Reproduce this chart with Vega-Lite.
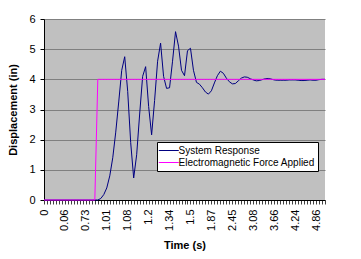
{
  "$schema": "https://vega.github.io/schema/vega-lite/v6.json",
  "width": 281,
  "height": 181,
  "autosize": {"type": "none"},
  "padding": {"left": 44, "top": 19, "right": 36, "bottom": 59},
  "background": "white",
  "data": {
    "values": [
      {"i": 0, "t": "0", "response": 0, "force": 0},
      {"i": 1, "t": "0.01", "response": 0, "force": 0},
      {"i": 2, "t": "0.02", "response": 0, "force": 0},
      {"i": 3, "t": "0.03", "response": 0, "force": 0},
      {"i": 4, "t": "0.04", "response": 0, "force": 0},
      {"i": 5, "t": "0.045", "response": 0, "force": 0},
      {"i": 6, "t": "0.05", "response": 0, "force": 0},
      {"i": 7, "t": "0.06", "response": 0, "force": 0},
      {"i": 8, "t": "0.16", "response": 0, "force": 0},
      {"i": 9, "t": "0.26", "response": 0, "force": 0},
      {"i": 10, "t": "0.36", "response": 0, "force": 0},
      {"i": 11, "t": "0.46", "response": 0, "force": 0},
      {"i": 12, "t": "0.56", "response": 0, "force": 0},
      {"i": 13, "t": "0.66", "response": 0, "force": 0},
      {"i": 14, "t": "0.73", "response": 0, "force": 0},
      {"i": 15, "t": "0.77", "response": 0, "force": 0},
      {"i": 16, "t": "0.81", "response": 0, "force": 0},
      {"i": 17, "t": "0.85", "response": 0, "force": 0},
      {"i": 18, "t": "0.89", "response": 0, "force": 4},
      {"i": 19, "t": "0.93", "response": 0.05, "force": 4},
      {"i": 20, "t": "0.97", "response": 0.18, "force": 4},
      {"i": 21, "t": "1.01", "response": 0.4, "force": 4},
      {"i": 22, "t": "1.02", "response": 0.8, "force": 4},
      {"i": 23, "t": "1.03", "response": 1.4, "force": 4},
      {"i": 24, "t": "1.04", "response": 2.25, "force": 4},
      {"i": 25, "t": "1.05", "response": 3.25, "force": 4},
      {"i": 26, "t": "1.06", "response": 4.3, "force": 4},
      {"i": 27, "t": "1.07", "response": 4.75, "force": 4},
      {"i": 28, "t": "1.08", "response": 3.6, "force": 4},
      {"i": 29, "t": "1.1", "response": 1.9, "force": 4},
      {"i": 30, "t": "1.12", "response": 0.73, "force": 4},
      {"i": 31, "t": "1.13", "response": 1.5, "force": 4},
      {"i": 32, "t": "1.15", "response": 2.85, "force": 4},
      {"i": 33, "t": "1.17", "response": 4.1, "force": 4},
      {"i": 34, "t": "1.18", "response": 4.42, "force": 4},
      {"i": 35, "t": "1.2", "response": 3.1, "force": 4},
      {"i": 36, "t": "1.22", "response": 2.16, "force": 4},
      {"i": 37, "t": "1.24", "response": 3.3, "force": 4},
      {"i": 38, "t": "1.26", "response": 4.6, "force": 4},
      {"i": 39, "t": "1.28", "response": 5.2, "force": 4},
      {"i": 40, "t": "1.3", "response": 4.1, "force": 4},
      {"i": 41, "t": "1.32", "response": 3.7, "force": 4},
      {"i": 42, "t": "1.34", "response": 3.72, "force": 4},
      {"i": 43, "t": "1.36", "response": 4.6, "force": 4},
      {"i": 44, "t": "1.38", "response": 5.58, "force": 4},
      {"i": 45, "t": "1.41", "response": 5.1, "force": 4},
      {"i": 46, "t": "1.43", "response": 4.3, "force": 4},
      {"i": 47, "t": "1.45", "response": 4.12, "force": 4},
      {"i": 48, "t": "1.48", "response": 4.95, "force": 4},
      {"i": 49, "t": "1.5", "response": 5.03, "force": 4},
      {"i": 50, "t": "1.55", "response": 4.3, "force": 4},
      {"i": 51, "t": "1.61", "response": 3.9, "force": 4},
      {"i": 52, "t": "1.66", "response": 3.84, "force": 4},
      {"i": 53, "t": "1.72", "response": 3.72, "force": 4},
      {"i": 54, "t": "1.77", "response": 3.58, "force": 4},
      {"i": 55, "t": "1.82", "response": 3.51, "force": 4},
      {"i": 56, "t": "1.87", "response": 3.62, "force": 4},
      {"i": 57, "t": "1.95", "response": 3.88, "force": 4},
      {"i": 58, "t": "2.04", "response": 4.12, "force": 4},
      {"i": 59, "t": "2.12", "response": 4.27, "force": 4},
      {"i": 60, "t": "2.2", "response": 4.2, "force": 4},
      {"i": 61, "t": "2.28", "response": 4.04, "force": 4},
      {"i": 62, "t": "2.37", "response": 3.92, "force": 4},
      {"i": 63, "t": "2.45", "response": 3.85, "force": 4},
      {"i": 64, "t": "2.54", "response": 3.86, "force": 4},
      {"i": 65, "t": "2.63", "response": 3.95, "force": 4},
      {"i": 66, "t": "2.72", "response": 4.04, "force": 4},
      {"i": 67, "t": "2.81", "response": 4.08, "force": 4},
      {"i": 68, "t": "2.9", "response": 4.07, "force": 4},
      {"i": 69, "t": "2.99", "response": 4.02, "force": 4},
      {"i": 70, "t": "3.08", "response": 3.98, "force": 4},
      {"i": 71, "t": "3.16", "response": 3.95, "force": 4},
      {"i": 72, "t": "3.24", "response": 3.96, "force": 4},
      {"i": 73, "t": "3.33", "response": 3.99, "force": 4},
      {"i": 74, "t": "3.41", "response": 4.02, "force": 4},
      {"i": 75, "t": "3.49", "response": 4.03, "force": 4},
      {"i": 76, "t": "3.58", "response": 4.01, "force": 4},
      {"i": 77, "t": "3.66", "response": 3.98, "force": 4},
      {"i": 78, "t": "3.74", "response": 3.97, "force": 4},
      {"i": 79, "t": "3.82", "response": 3.97, "force": 4},
      {"i": 80, "t": "3.91", "response": 3.97, "force": 4},
      {"i": 81, "t": "3.99", "response": 3.97, "force": 4},
      {"i": 82, "t": "4.07", "response": 3.98, "force": 4},
      {"i": 83, "t": "4.16", "response": 3.98, "force": 4},
      {"i": 84, "t": "4.24", "response": 3.98, "force": 4},
      {"i": 85, "t": "4.33", "response": 3.97, "force": 4},
      {"i": 86, "t": "4.42", "response": 3.96, "force": 4},
      {"i": 87, "t": "4.51", "response": 3.96, "force": 4},
      {"i": 88, "t": "4.6", "response": 3.97, "force": 4},
      {"i": 89, "t": "4.68", "response": 3.98, "force": 4},
      {"i": 90, "t": "4.77", "response": 3.97, "force": 4},
      {"i": 91, "t": "4.86", "response": 3.97, "force": 4},
      {"i": 92, "t": "4.95", "response": 3.99, "force": 4},
      {"i": 93, "t": "5.04", "response": 4.0, "force": 4},
      {"i": 94, "t": "5.13", "response": 4.0, "force": 4}
    ]
  },
  "transform": [{"fold": ["response", "force"], "as": ["series", "value"]}],
  "layer": [
    {
      "mark": {"type": "line", "strokeWidth": 1, "interpolate": "linear"},
      "encoding": {
        "x": {
          "field": "i",
          "type": "quantitative",
          "scale": {"domain": [0, 94], "nice": false, "zero": false},
          "axis": {
            "orient": "bottom",
            "title": null,
            "labels": false,
            "grid": false,
            "values": [0, 1, 2, 3, 4, 5, 6, 7, 8, 9, 10, 11, 12, 13, 14, 15, 16, 17, 18, 19, 20, 21, 22, 23, 24, 25, 26, 27, 28, 29, 30, 31, 32, 33, 34, 35, 36, 37, 38, 39, 40, 41, 42, 43, 44, 45, 46, 47, 48, 49, 50, 51, 52, 53, 54, 55, 56, 57, 58, 59, 60, 61, 62, 63, 64, 65, 66, 67, 68, 69, 70, 71, 72, 73, 74, 75, 76, 77, 78, 79, 80, 81, 82, 83, 84, 85, 86, 87, 88, 89, 90, 91, 92, 93, 94],
            "tickSize": 4,
            "tickColor": "#404040",
            "domainColor": "black"
          }
        },
        "y": {
          "field": "value",
          "type": "quantitative",
          "scale": {"domain": [0, 6]},
          "axis": {
            "title": "Displacement (in)",
            "values": [0, 1, 2, 3, 4, 5, 6],
            "grid": true,
            "gridColor": "#808080",
            "gridOpacity": 1,
            "domainColor": "black",
            "tickColor": "black",
            "tickSize": 4,
            "labelPadding": 5,
            "labelFontSize": 11,
            "titleFontSize": 11,
            "titleFontWeight": "bold",
            "titlePadding": 10
          }
        },
        "color": {
          "field": "series",
          "type": "nominal",
          "scale": {"domain": ["response", "force"], "range": ["#000080", "#FF00FF"]},
          "legend": {
            "title": null,
            "orient": "none",
            "legendX": 113,
            "legendY": 123,
            "labelExpr": "datum.value == 'response' ? 'System Response' : 'Electromagnetic Force Applied'",
            "symbolType": "M-2,0H2",
            "symbolSize": 100,
            "symbolStrokeWidth": 1,
            "symbolOffset": 3.3,
            "labelOffset": 4.3,
            "labelFontSize": 10,
            "padding": 3,
            "rowPadding": 1,
            "strokeColor": "black",
            "fillColor": "white",
            "cornerRadius": 0,
            "encode": {
              "symbols": {
                "update": {
                  "stroke": {"scale": "color", "field": "value"},
                  "fill": {"value": "transparent"}
                }
              }
            }
          }
        }
      }
    },
    {
      "mark": {"type": "point", "opacity": 0},
      "encoding": {
        "x": {
          "field": "i",
          "type": "quantitative",
          "axis": {
            "orient": "bottom",
            "title": "Time (s)",
            "values": [0, 7, 14, 21, 28, 35, 42, 49, 56, 63, 70, 77, 84, 91],
            "labelExpr": "['0','0.06','0.73','1.01','1.08','1.2','1.34','1.5','1.87','2.45','3.08','3.66','4.24','4.86'][round(datum.value / 7)]",
            "labelAngle": 270,
            "ticks": false,
            "domain": false,
            "grid": false,
            "labelPadding": 9,
            "labelFontSize": 11,
            "titleFontSize": 11,
            "titleFontWeight": "bold",
            "titlePadding": 9
          }
        }
      }
    }
  ],
  "resolve": {"axis": {"x": "independent"}},
  "config": {
    "font": "Liberation Sans",
    "view": {"fill": "#C0C0C0", "stroke": null},
    "axis": {"labelColor": "black", "titleColor": "black"},
    "legend": {"labelColor": "black"}
  }
}
